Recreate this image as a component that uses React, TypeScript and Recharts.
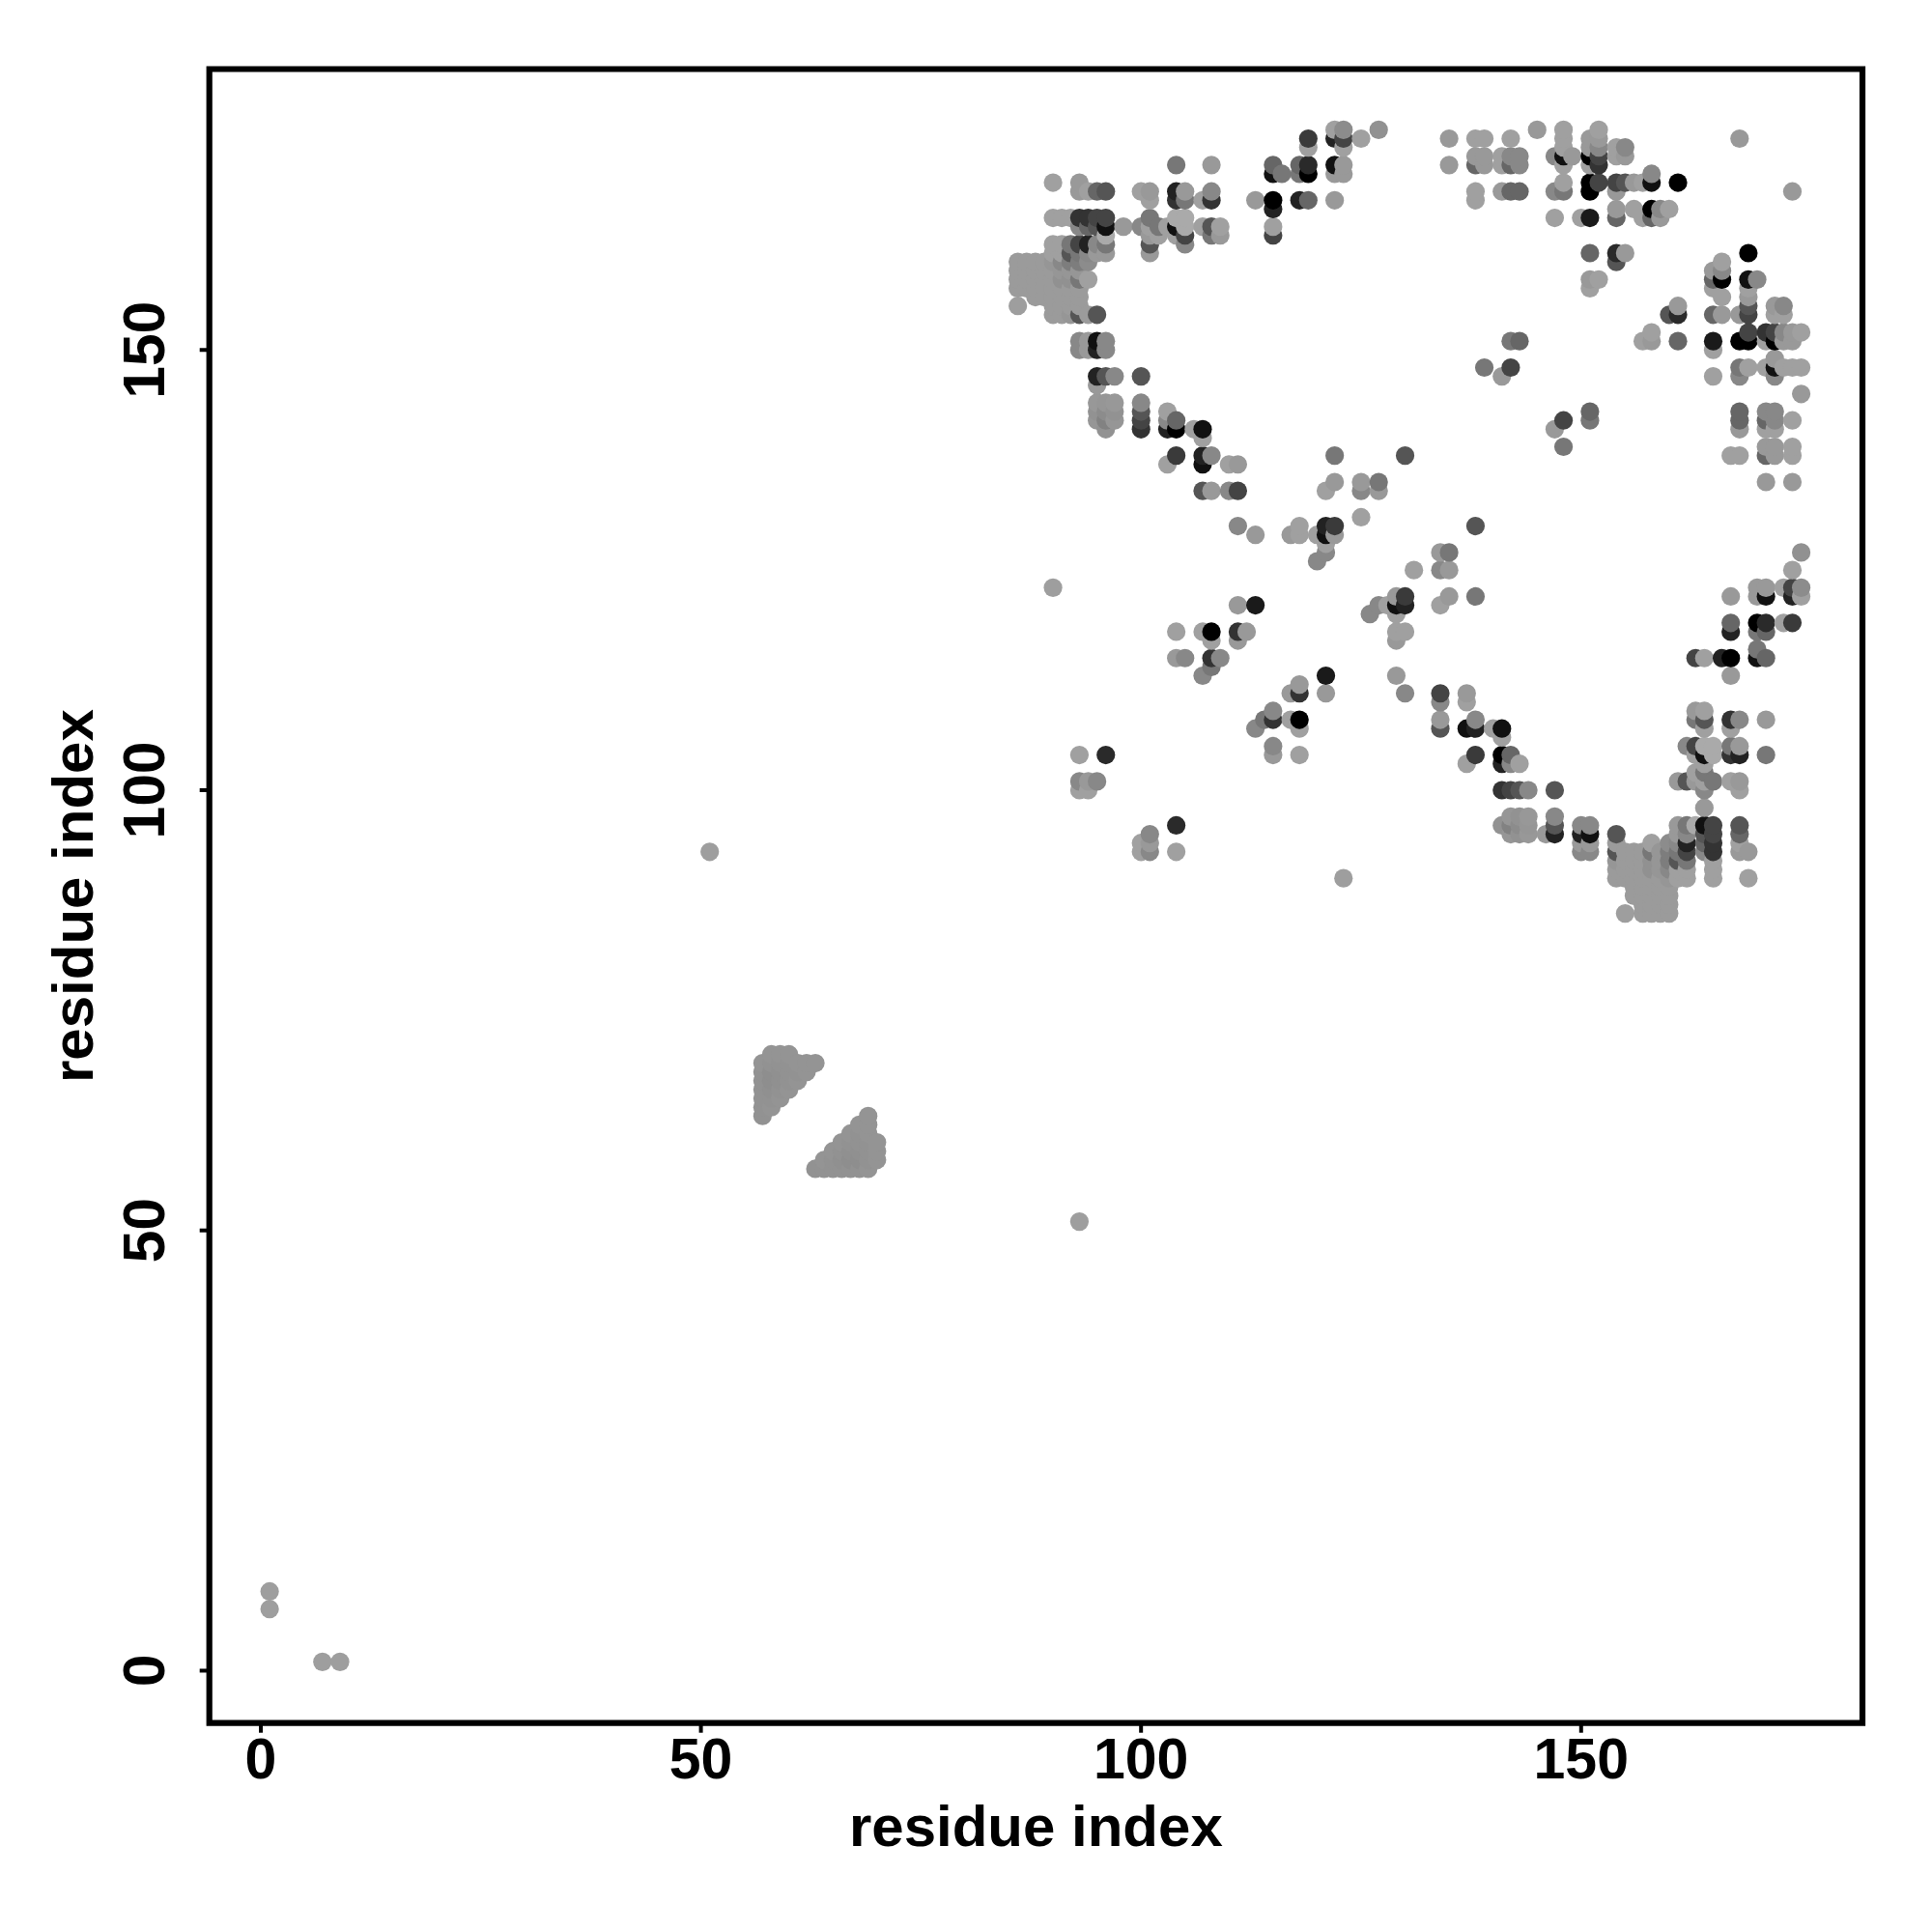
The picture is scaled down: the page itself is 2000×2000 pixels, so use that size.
import React from 'react';
import {
  ScatterChart,
  Scatter,
  XAxis,
  YAxis,
  ReferenceArea,
} from 'recharts';

type Contact = [number, number, number];

// Contact map is symmetric: every pair below is [i, j, grey level] with i < j
const tickValues = [0, 50, 100, 150];

const isolatedContacts: Contact[] = [
  [1, 7, 158], [1, 9, 158], [51, 93, 158], [90, 123, 158],
];

const hairpinContacts: Contact[] = [
  [57, 63, 146],
  [57, 64, 146], [58, 64, 148],
  [57, 65, 146], [58, 65, 146], [59, 65, 148],
  [57, 66, 146], [58, 66, 144], [59, 66, 146], [60, 66, 148],
  [57, 67, 146], [58, 67, 142], [59, 67, 144], [60, 67, 146], [61, 67, 148],
  [57, 68, 146], [58, 68, 142], [59, 68, 144], [60, 68, 146], [61, 68, 146], [62, 68, 148],
  [57, 69, 148], [58, 69, 146], [59, 69, 146], [60, 69, 146], [61, 69, 148], [62, 69, 148], [63, 69, 148],
  [58, 70, 148], [59, 70, 148], [60, 70, 148],
];

const lowContacts: Contact[] = [
  [93, 100, 160], [94, 100, 160],
  [93, 101, 136], [94, 101, 153], [95, 101, 136],
  [93, 104, 160], [96, 104, 42],
  [107, 113, 136], [108, 114, 119],
  [104, 115, 153], [105, 115, 136], [108, 115, 51], [109, 115, 136],
  [108, 117, 160], [111, 117, 153],
  [104, 118, 160], [107, 118, 160], [108, 118, 0], [111, 118, 51], [112, 118, 153],
  [111, 121, 153], [113, 121, 26],
  [120, 126, 136], [121, 127, 136], [121, 128, 160],
  [113, 129, 153], [117, 129, 153], [118, 129, 160], [120, 129, 160], [121, 129, 17], [122, 129, 153],
  [111, 130, 136], [118, 130, 160], [121, 130, 34], [122, 130, 58],
  [125, 131, 160],
];

const midContacts: Contact[] = [
  [107, 134, 85], [108, 134, 153], [110, 134, 136], [111, 134, 68], [121, 134, 160], [125, 134, 136], [127, 134, 153],
  [122, 135, 153], [125, 135, 153], [127, 135, 119],
  [103, 137, 160], [107, 137, 17], [110, 137, 160], [111, 137, 153],
  [104, 138, 58], [107, 138, 34], [108, 138, 136], [122, 138, 119], [130, 138, 85],
  [107, 140, 160],
  [96, 141, 146], [100, 141, 51], [103, 141, 34], [104, 141, 0], [106, 141, 160], [107, 141, 17],
  [95, 142, 150], [96, 142, 130], [97, 142, 150], [100, 142, 68], [103, 142, 136], [104, 142, 102],
  [95, 143, 146], [96, 143, 140], [97, 143, 146], [100, 143, 85], [103, 143, 160],
  [95, 144, 152], [96, 144, 150], [97, 144, 152], [100, 144, 136],
  [95, 146, 153],
  [95, 147, 34], [96, 147, 85], [97, 147, 136], [100, 147, 85], [141, 147, 153],
  [139, 148, 119], [142, 148, 68],
  [93, 150, 136], [94, 150, 153], [95, 150, 34], [96, 150, 136],
  [93, 151, 136], [94, 151, 153], [95, 151, 17], [96, 151, 136], [142, 151, 119], [143, 151, 102],
];

const clusterContacts: Contact[] = [
  [90, 154, 155], [91, 154, 155], [92, 154, 150], [93, 154, 85], [94, 154, 155], [95, 154, 85],
  [86, 155, 158], [90, 155, 155], [91, 155, 155], [92, 155, 155], [93, 155, 155],
  [88, 156, 155], [89, 156, 155], [90, 156, 155], [91, 156, 155], [92, 156, 155], [93, 156, 155],
  [86, 157, 155], [87, 157, 155], [88, 157, 155], [89, 157, 155], [90, 157, 155], [91, 157, 155], [92, 157, 155], [93, 157, 155],
  [86, 158, 155], [87, 158, 155], [88, 158, 155], [89, 158, 155], [90, 158, 155], [91, 158, 145], [92, 158, 145], [93, 158, 119], [94, 158, 160],
  [86, 159, 155], [87, 159, 155], [88, 159, 155], [89, 159, 155], [90, 159, 155], [91, 159, 150], [92, 159, 150], [93, 159, 150],
  [86, 160, 155], [87, 160, 155], [88, 160, 155], [89, 160, 155], [90, 160, 150], [91, 160, 136], [92, 160, 125], [93, 160, 125], [94, 160, 140],
  [90, 161, 160], [91, 161, 160], [92, 161, 85], [93, 161, 119], [94, 161, 136], [95, 161, 153], [96, 161, 153],
  [90, 162, 160], [91, 162, 160], [92, 162, 119], [93, 162, 68], [94, 162, 34], [95, 162, 136], [96, 162, 119],
];

const highContacts: Contact[] = [
  [151, 157, 160], [151, 158, 153], [152, 158, 160], [154, 160, 85],
  [101, 162, 85], [105, 162, 136],
  [101, 161, 153],
  [96, 163, 170], [101, 163, 153], [102, 163, 160], [104, 163, 160], [105, 163, 68], [108, 163, 119], [109, 163, 153], [115, 163, 68],
  [151, 161, 102], [154, 161, 42], [155, 161, 153],
  [93, 164, 136], [94, 164, 102], [95, 164, 85], [96, 164, 17], [98, 164, 153], [100, 164, 136], [101, 164, 160], [102, 164, 119], [103, 164, 160], [104, 164, 17], [105, 164, 170], [107, 164, 160], [108, 164, 85], [109, 164, 160], [115, 164, 160],
  [90, 165, 160], [91, 165, 160], [92, 165, 160], [93, 165, 51], [94, 165, 51], [95, 165, 68], [96, 165, 68], [101, 165, 119], [104, 165, 170], [105, 165, 170], [147, 165, 160], [150, 165, 160], [151, 165, 26], [154, 165, 102], [157, 165, 160], [158, 165, 102], [159, 165, 153],
  [115, 166, 34], [154, 166, 153], [156, 166, 160], [158, 166, 0], [159, 166, 136], [160, 166, 160],
  [101, 167, 160], [104, 167, 51], [105, 167, 119], [107, 167, 160], [108, 167, 51], [113, 167, 153], [115, 167, 0], [118, 167, 34], [119, 167, 102], [122, 167, 153], [138, 167, 160],
  [93, 168, 153], [94, 168, 160], [95, 168, 102], [96, 168, 85], [100, 168, 160], [101, 168, 153], [104, 168, 34], [105, 168, 153], [108, 168, 136], [138, 168, 160], [141, 168, 153], [142, 168, 102], [143, 168, 102], [147, 168, 136], [148, 168, 119], [151, 168, 0], [154, 168, 153],
  [90, 169, 160], [93, 169, 153], [148, 169, 160], [151, 169, 0], [152, 169, 68], [154, 169, 68], [155, 169, 85], [156, 169, 153], [157, 169, 160], [158, 169, 17], [161, 169, 0],
  [115, 170, 17], [116, 170, 119], [118, 170, 119], [119, 170, 0], [122, 170, 153], [123, 170, 153], [158, 170, 136],
  [104, 171, 119], [108, 171, 153], [115, 171, 102], [118, 171, 102], [119, 171, 42], [122, 171, 17], [123, 171, 153], [135, 171, 153], [138, 171, 102], [139, 171, 153], [141, 171, 160], [142, 171, 102], [143, 171, 136], [148, 171, 160], [151, 171, 160], [152, 171, 51],
  [138, 172, 153], [139, 172, 153], [141, 172, 160], [142, 172, 136], [143, 172, 136], [147, 172, 136], [148, 172, 17], [149, 172, 153], [151, 172, 0], [152, 172, 68], [154, 172, 160], [155, 172, 153],
  [119, 173, 160], [123, 173, 160], [148, 173, 160], [151, 173, 153], [152, 173, 136], [154, 173, 160], [155, 173, 136],
  [119, 174, 58], [122, 174, 34], [123, 174, 68], [125, 174, 160], [135, 174, 153], [138, 174, 160], [139, 174, 160], [142, 174, 160], [148, 174, 160], [151, 174, 153], [152, 174, 153], [168, 174, 153],
  [122, 175, 160], [123, 175, 140], [127, 175, 145], [145, 175, 153], [148, 175, 160], [152, 175, 160],
];

const allContacts = [
  ...isolatedContacts,
  ...hairpinContacts,
  ...lowContacts,
  ...midContacts,
  ...clusterContacts,
  ...highContacts,
];

// Both halves of the map, drawn by ascending x then y so overlaps stack as in the plot
const chartData = allContacts
  .flatMap(([i, j, level]) => [
    { x: i, y: j, level },
    { x: j, y: i, level },
  ])
  .sort((a, b) => a.x - b.x || a.y - b.y);

const FONT = '"Liberation Sans", Arial, sans-serif';

const ContactDot = ({ cx, cy, payload }: any) => (
  <circle
    cx={cx}
    cy={cy}
    r={9.6}
    fill={`rgb(${payload.level},${payload.level},${payload.level})`}
  />
);

const XTick = ({ x, payload }: any) => (
  <text
    x={x}
    y={1841}
    textAnchor="middle"
    fontFamily={FONT}
    fontWeight="bold"
    fontSize={59}
    fill="#000"
  >
    {payload.value}
  </text>
);

const YTick = ({ y, payload }: any) => (
  <text
    transform={`translate(170 ${y}) rotate(-90)`}
    textAnchor="middle"
    fontFamily={FONT}
    fontWeight="bold"
    fontSize={60.5}
    fill="#000"
  >
    {payload.value}
  </text>
);

const App: React.FC = () => {
  return (
    <div style={{ position: 'absolute', left: 0, top: 0, background: '#fff' }}>
      <ScatterChart
        width={2000}
        height={2000}
        margin={{ top: 71.5, right: 72, left: 0, bottom: 0 }}
      >
        <XAxis
          type="number"
          dataKey="x"
          domain={[-5.85, 181.96]}
          ticks={tickValues}
          interval={0}
          height={216.3}
          axisLine={false}
          tickSize={10}
          tickLine={{ stroke: '#000', strokeWidth: 4 }}
          tick={<XTick />}
          label={{
            value: 'residue index',
            position: 'insideBottom',
            offset: 89,
            fontFamily: FONT,
            fontWeight: 'bold',
            fontSize: 60,
            fill: '#000',
          }}
        />
        <YAxis
          type="number"
          dataKey="y"
          domain={[-5.95, 181.9]}
          ticks={tickValues}
          interval={0}
          width={216.7}
          axisLine={false}
          tickSize={10}
          tickLine={{ stroke: '#000', strokeWidth: 4 }}
          tick={<YTick />}
          label={{
            value: 'residue index',
            angle: -90,
            position: 'insideLeft',
            offset: 75,
            fontFamily: FONT,
            fontWeight: 'bold',
            fontSize: 60,
            fill: '#000',
            style: { textAnchor: 'middle' },
          }}
        />
        <ReferenceArea
          x1={-5.85}
          x2={181.96}
          y1={-5.95}
          y2={181.9}
          fill="none"
          stroke="#000"
          strokeWidth={6.2}
          ifOverflow="visible"
        />
        <Scatter
          data={chartData}
          shape={<ContactDot />}
          isAnimationActive={false}
        />
      </ScatterChart>
    </div>
  );
};

export default App;
